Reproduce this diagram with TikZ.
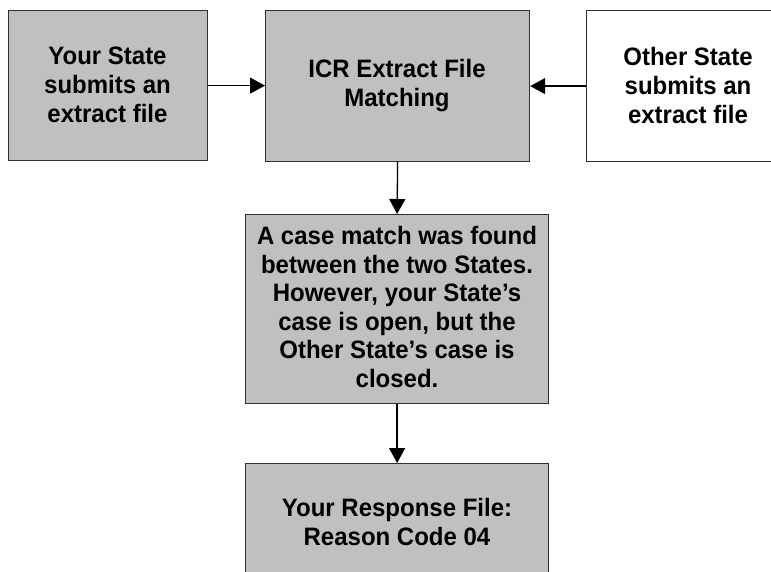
\documentclass[tikz,border=0pt]{standalone}
\usepackage{fontspec}
\setmainfont{Liberation Sans}
\newfontfamily\lblfont[FakeStretch=0.952]{Liberation Sans}
\usetikzlibrary{arrows.meta}
\definecolor{boxgray}{HTML}{C0C0C0}
\definecolor{edgegray}{HTML}{303030}
\tikzset{
  box/.style={draw=edgegray, line width=1.2pt, inner sep=0pt, anchor=north west},
  graybox/.style={box, fill=boxgray},
  whitebox/.style={box, fill=white},
  lbl/.style={align=center, inner sep=0pt, text=black,
    font=\lblfont\fontsize{25.2}{29}\selectfont\bfseries},
  conn/.style={line width=1.3pt, -{Triangle[length=15pt,width=16pt]}}
}
\begin{document}
\begin{tikzpicture}[x=1pt,y=-1pt]
\useasboundingbox (0,0) rectangle (771,571);
\clip (0,0) rectangle (771,571);
% boxes
\node[graybox, minimum width=199pt, minimum height=150pt] (you) at (8,10) {};
\node[graybox, minimum width=264pt, minimum height=151pt] (icr) at (265,10) {};
\node[whitebox, minimum width=210pt, minimum height=151pt] (other) at (586,10) {};
\node[graybox, minimum width=303pt, minimum height=189pt] (match) at (245,214) {};
\node[graybox, minimum width=303pt, minimum height=120pt] (resp) at (245,463) {};
% labels
\node[lbl] (youT) at (107.5,85) {Your State\\submits an\\extract file};
\node[lbl] (icrT) at (397,85.5) {ICR Extract File\\Matching};
\node[lbl] (otherT) at (688,85.5) {Other State\\submits an\\extract file};
\node[lbl, font=\lblfont\fontsize{25.2}{28.6}\selectfont\bfseries] (matchT) at (397,307) {A case match was found\\between the two States.\\However, your State’s\\case is open, but the\\Other State’s case is\\closed.};
\node[lbl] (respT) at (397,522) {Your Response File:\\Reason Code 04};
% connectors
\draw[conn] (you.east) -- (icr.west |- you.east);
\draw[conn] (other.west |- icr.east) -- (icr.east);
\draw[conn] (icr.south) -- (match.north);
\draw[conn] (match.south) -- (resp.north);
\end{tikzpicture}
\end{document}
